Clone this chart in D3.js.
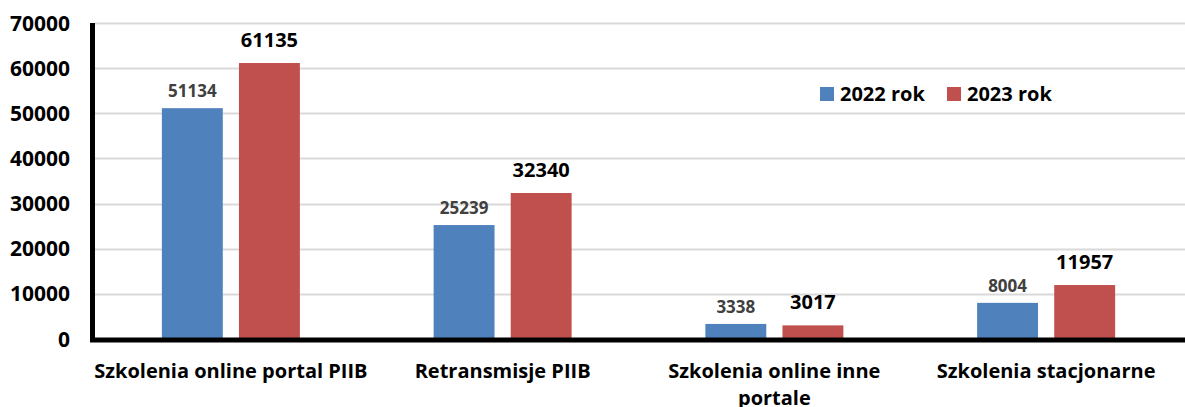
<!DOCTYPE html>
<html>
<head>
<meta charset="utf-8">
<script src="https://cdn.jsdelivr.net/npm/d3@7"></script>
<style>
  body { margin: 0; background: #fff; }
  text { font-family: "Open Sans", Lato, sans-serif; font-weight: bold; }
</style>
</head>
<body>
<div id="chart"></div>
<script>
var categories = ["Szkolenia online portal PIIB", "Retransmisje PIIB", "Szkolenia online inne portale", "Szkolenia stacjonarne"];
var labelLines = [["Szkolenia online portal PIIB"], ["Retransmisje PIIB"], ["Szkolenia online inne", "portale"], ["Szkolenia stacjonarne"]];
var series = ["2022 rok", "2023 rok"];
var values2022 = [51134, 25239, 3338, 8004];
var values2023 = [61135, 32340, 3017, 11957];
var yTicks = [0, 10000, 20000, 30000, 40000, 50000, 60000, 70000];
var colors = ["#4F81BD", "#C0504D"];

var width = 1185,
    height = 407,
    margin = {top: 23, right: 5, bottom: 68, left: 95};

var svg = d3.select("#chart").append("svg")
  .attr("width", width)
  .attr("height", height);

var y = d3.scaleLinear()
  .domain([0, 70000])
  .range([339, margin.top]);

var x0 = d3.scaleBand()
  .domain(categories)
  .range([margin.left, 1182])
  .padding(0);

var x1 = d3.scaleBand()
  .domain(series)
  .range([-69, 69])
  .paddingInner(0.21)
  .paddingOuter(0);

// gridlines
svg.append("g")
  .selectAll("line")
  .data(yTicks.filter(function(d){ return d > 0; }))
  .join("line")
    .attr("x1", margin.left)
    .attr("x2", width)
    .attr("y1", function(d){ return Math.round(y(d)) + 0.5; })
    .attr("y2", function(d){ return Math.round(y(d)) + 0.5; })
    .attr("stroke", "#d9d9d9")
    .attr("stroke-width", 2);

// y tick labels
svg.append("g")
  .selectAll("text")
  .data(yTicks)
  .join("text")
    .attr("x", 70)
    .attr("y", function(d){ return y(d) + 7.5; })
    .attr("text-anchor", "end")
    .attr("font-size", "21px")
    .attr("fill", "#000")
    .text(function(d){ return d; });

var rows = categories.map(function(c, i){
  return {cat: c, vals: [values2022[i], values2023[i]]};
});

var groups = svg.append("g")
  .selectAll("g")
  .data(rows)
  .join("g")
    .attr("transform", function(d){ return "translate(" + (x0(d.cat) + x0.bandwidth() / 2) + ",0)"; });

groups.selectAll("rect")
  .data(function(d){ return d.vals.map(function(v, j){ return {s: series[j], v: v, j: j}; }); })
  .join("rect")
    .attr("x", function(d){ return x1(d.s); })
    .attr("y", function(d){ return y(d.v); })
    .attr("width", x1.bandwidth())
    .attr("height", function(d){ return y(0) - y(d.v); })
    .attr("fill", function(d){ return colors[d.j]; });

groups.selectAll("text")
  .data(function(d){ return d.vals.map(function(v, j){ return {s: series[j], v: v, j: j}; }); })
  .join("text")
    .attr("x", function(d){ return x1(d.s) + x1.bandwidth() / 2; })
    .attr("y", function(d){ return y(d.v) - (d.j == 0 ? 11 : 16); })
    .attr("text-anchor", "middle")
    .attr("font-size", function(d){ return d.j == 0 ? "17px" : "20px"; })
    .attr("fill", function(d){ return d.j == 0 ? "#404040" : "#000"; })
    .text(function(d){ return d.v; });

// axes lines
svg.append("line")
  .attr("x1", 92.5).attr("x2", 92.5)
  .attr("y1", 23).attr("y2", 342)
  .attr("stroke", "#000")
  .attr("stroke-width", 5);

svg.append("line")
  .attr("x1", 90).attr("x2", width)
  .attr("y1", 340).attr("y2", 340)
  .attr("stroke", "#000")
  .attr("stroke-width", 5);

// category labels
svg.append("g")
  .selectAll("text")
  .data(categories)
  .join("text")
    .attr("x", function(d){ return x0(d) + x0.bandwidth() / 2; })
    .attr("y", 378)
    .attr("text-anchor", "middle")
    .attr("font-size", "20px")
    .attr("fill", "#000")
    .each(function(d, i){
      var t = d3.select(this);
      labelLines[i].forEach(function(line, k){
        t.append("tspan")
          .attr("x", x0(d) + x0.bandwidth() / 2)
          .attr("dy", k == 0 ? 0 : 27)
          .text(line);
      });
    });

// legend
var legend = svg.append("g")
  .attr("transform", "translate(820,87)");

var items = legend.selectAll("g")
  .data(series)
  .join("g")
    .attr("transform", function(d, i){ return "translate(" + (i * 127) + ",0)"; });

items.append("rect")
  .attr("width", 14)
  .attr("height", 14)
  .attr("fill", function(d, i){ return colors[i]; });

items.append("text")
  .attr("x", 20)
  .attr("y", 14)
  .attr("font-size", "20px")
  .attr("fill", "#000")
  .text(function(d){ return d; });
</script>
</body>
</html>
